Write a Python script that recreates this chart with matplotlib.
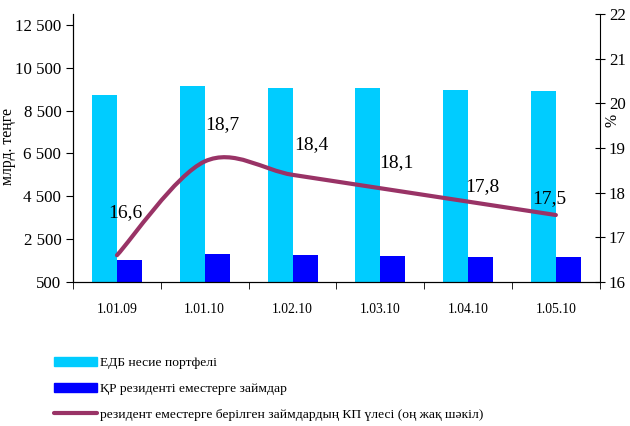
import numpy as np
import matplotlib.pyplot as plt
from matplotlib.path import Path
from matplotlib.patches import PathPatch, Patch
from matplotlib.lines import Line2D

plt.rcParams['font.family'] = ['Liberation Serif', 'DejaVu Serif']

# данные
dates = ['1.01.09', '1.01.10', '1.02.10', '1.03.10', '1.04.10', '1.05.10']
portfolio = [9230, 9650, 9560, 9560, 9470, 9420]
nonres_loans = [1530, 1810, 1760, 1720, 1680, 1660]
share = [16.6, 18.7, 18.4, 18.1, 17.8, 17.5]
share_labels = ['16,6', '18,7', '18,4', '18,1', '17,8', '17,5']
# смещения подписей (пиксели)
lbl_off = [(8, 43), (18, 37), (19, 30), (16, 26), (14, 15), (-7, 16)]

fig = plt.figure(figsize=(6.3, 4.26), dpi=100)
ax = fig.add_axes([0.116, 0.338, 0.836, 0.629])
ax2 = ax.twinx()

x = np.arange(len(dates))
w = 0.285
ax.bar(x - w / 2, portfolio, width=w, color='#00CCFF', zorder=2)
ax.bar(x + w / 2, nonres_loans, width=w, color='#0000FF', zorder=2)

ax.set_ylim(500, 13000)
ax.set_yticks(np.arange(500, 12501, 2000))
ax.set_yticklabels([f'{v:,}'.replace(',', ' ') for v in range(500, 12501, 2000)])
ax.set_xlim(-0.5, 5.5)
ax.set_xticks(x)
ax.set_xticklabels(dates)
ax.set_xticks(np.arange(-0.5, 5.6, 1), minor=True)
ax.tick_params(axis='x', which='major', length=0, labelsize=9.8, pad=15)
ax.tick_params(axis='x', which='minor', length=5, direction='out')
ax.tick_params(axis='y', length=5, direction='out', labelsize=12.2)
ax.set_ylabel('млрд. теңге', fontsize=11.3)
ax.yaxis.set_label_coords(-0.108, 0.507)
for s in ['top', 'right']:
    ax.spines[s].set_visible(False)

# сглаженная линия (кривые Безье как в Excel)
px = list(x.astype(float))
py = list(share)
verts = [(px[0], py[0])]
codes = [Path.MOVETO]
n = len(px)
for i in range(n - 1):
    p0 = (px[max(i - 1, 0)], py[max(i - 1, 0)])
    p1 = (px[i], py[i])
    p2 = (px[i + 1], py[i + 1])
    p3 = (px[min(i + 2, n - 1)], py[min(i + 2, n - 1)])
    c1 = (p1[0] + (p2[0] - p0[0]) / 6, p1[1] + (p2[1] - p0[1]) / 6)
    c2 = (p2[0] - (p3[0] - p1[0]) / 6, p2[1] - (p3[1] - p1[1]) / 6)
    verts += [c1, c2, p2]
    codes += [Path.CURVE4] * 3
ax2.add_patch(PathPatch(Path(verts, codes), fill=False, edgecolor='#993366',
                        lw=3, capstyle='round', zorder=3))

for xi, yi, t, off in zip(x, share, share_labels, lbl_off):
    ax2.annotate(t, (xi, yi), xytext=off, textcoords='offset pixels',
                 ha='center', va='center', fontsize=14)

ax2.set_ylim(16, 22)
ax2.set_yticks(range(16, 23))
ax2.tick_params(axis='y', length=7, direction='inout', labelsize=12.2, pad=3)
ax2.spines['top'].set_visible(False)
ax2.text(1.025, 0.604, '%', transform=ax2.transAxes, rotation=90,
         ha='center', va='center', fontsize=11.3)

handles = [Patch(color='#00CCFF'), Patch(color='#0000FF'),
           Line2D([], [], color='#993366', lw=3, solid_capstyle='round')]
labels = ['ЕДБ несие портфелі', 'ҚР резиденті еместерге займдар',
          'резидент еместерге берілген займдардың КП үлесі (оң жақ шәкіл)']
fig.legend(handles, labels, loc='upper left', bbox_to_anchor=(0.075, 0.178),
           frameon=False, fontsize=9.7, handlelength=3.2, handleheight=0.65,
           handletextpad=0.2, labelspacing=1.0, borderpad=0)

fig.savefig('out.png', dpi=100)
